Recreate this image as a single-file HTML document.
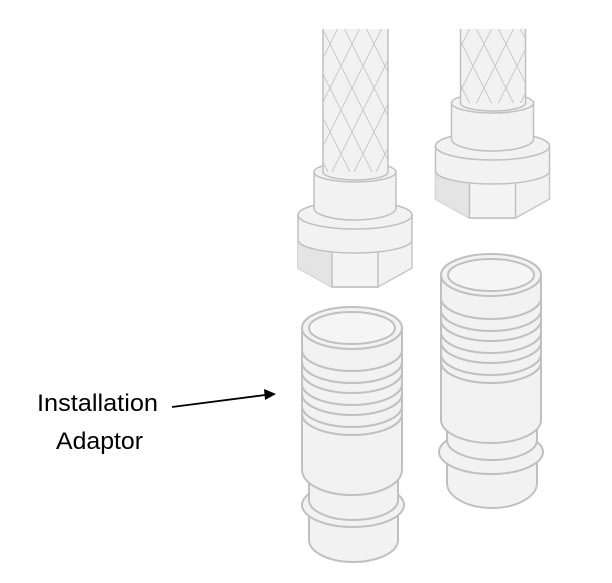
<!DOCTYPE html>
<html><head><meta charset="utf-8"><style>
html,body{margin:0;padding:0;background:#fff;width:612px;height:583px;overflow:hidden}
svg{display:block}
text{font-family:"Liberation Sans",sans-serif;font-size:24px;fill:#000}
</style></head><body>
<svg width="612" height="583" viewBox="0 0 612 583" xmlns="http://www.w3.org/2000/svg">
<defs>
<pattern id="mesh" width="22" height="44" patternUnits="userSpaceOnUse">
<path d="M0 0 L22 44 M22 0 L0 44 M-11 22 L0 44 M11 -22 L33 22" stroke="#c8c8c8" stroke-width="1" fill="none"/>
</pattern>
<g id="fit">
<!-- hex -->
<path d="M298 242 L298 268 L332 287 L378 287 L412 268 L412 242 Z" fill="#f2f2f2" stroke="#c8c8c8" stroke-width="1.5"/>
<path d="M298 242 L298 268 L332 287 L332 252 Z" fill="#e4e4e4"/>
<path d="M332 253 L332 287 L378 287 L378 253" fill="#f4f4f4" stroke="#c0c0c0" stroke-width="1.5"/>
<!-- nut -->
<path d="M298 215 L298 240 A57 13 0 0 0 412 240 L412 215 Z" fill="#f2f2f2" stroke="#c0c0c0" stroke-width="1.5"/>
<ellipse cx="355" cy="215" rx="57" ry="14" fill="#f2f2f2" stroke="#c0c0c0" stroke-width="1.5"/>
<!-- collar -->
<path d="M314 172 L314 208 A41 12 0 0 0 396 208 L396 172 Z" fill="#f2f2f2" stroke="#c0c0c0" stroke-width="1.5"/>
<ellipse cx="355" cy="172" rx="41" ry="10" fill="#f2f2f2" stroke="#c0c0c0" stroke-width="1.5"/>
</g>
</defs>

<!-- left fitting -->
<use href="#fit"/>
<rect x="323" y="29" width="65" height="143" fill="#f2f2f2"/>
<rect x="323" y="29" width="65" height="143" fill="url(#mesh)"/>
<path d="M323 29 L323 172 A32.5 8 0 0 0 388 172 L388 29" fill="none" stroke="#c0c0c0" stroke-width="1.5"/>

<!-- right fitting -->
<use href="#fit" transform="translate(137.5,-69)"/>
<rect x="460.5" y="29" width="65" height="74" fill="#f2f2f2"/>
<rect x="460.5" y="29" width="65" height="74" fill="url(#mesh)"/>
<path d="M460.5 29 L460.5 103 A32.5 8 0 0 0 525.5 103 L525.5 29" fill="none" stroke="#c0c0c0" stroke-width="1.5"/>

<!-- left adaptor -->
<g stroke="#c0c0c0" stroke-width="2" fill="#f2f2f2">
<path d="M309 510 L309 540 A44.5 22 0 0 0 398 540 L398 510 Z"/>
<ellipse cx="353" cy="505" rx="51" ry="22"/>
<path d="M309 460 L309 500 A44.5 20 0 0 0 398 500 L398 460 Z"/>
<path d="M302 328 L302 470 A50 25 0 0 0 402 470 L402 328 Z"/>
<ellipse cx="352" cy="328" rx="50" ry="21"/>
<ellipse cx="352" cy="328" rx="43" ry="16" fill="#f5f5f5"/>
<g fill="none">
<path d="M302 350 A50 21 0 0 0 402 350"/>
<path d="M302 362 A50 21 0 0 0 402 362"/>
<path d="M302 372 A50 21 0 0 0 402 372"/>
<path d="M302 384 A50 21 0 0 0 402 384"/>
<path d="M302 394 A50 21 0 0 0 402 394"/>
<path d="M302 406 A50 21 0 0 0 402 406"/>
<path d="M302 414 A50 21 0 0 0 402 414"/>
</g>
</g>

<!-- right adaptor -->
<g stroke="#c0c0c0" stroke-width="2" fill="#f2f2f2">
<path d="M447 458 L447 483 A45 25 0 0 0 537 483 L537 458 Z"/>
<ellipse cx="491" cy="452" rx="52" ry="22"/>
<path d="M447 400 L447 440 A45 20 0 0 0 537 440 L537 400 Z"/>
<path d="M441 275 L441 420 A50 23 0 0 0 541 420 L541 275 Z"/>
<ellipse cx="491" cy="275" rx="50" ry="21"/>
<ellipse cx="491" cy="275" rx="43" ry="16" fill="#f5f5f5"/>
<g fill="none">
<path d="M441 298 A50 21 0 0 0 541 298"/>
<path d="M441 310 A50 21 0 0 0 541 310"/>
<path d="M441 320 A50 21 0 0 0 541 320"/>
<path d="M441 332 A50 21 0 0 0 541 332"/>
<path d="M441 342 A50 21 0 0 0 541 342"/>
<path d="M441 354 A50 21 0 0 0 541 354"/>
<path d="M441 362 A50 21 0 0 0 541 362"/>
</g>
</g>

<!-- label -->
<text x="37" y="411" textLength="121" lengthAdjust="spacingAndGlyphs">Installation</text>
<text x="56" y="449" textLength="87" lengthAdjust="spacingAndGlyphs">Adaptor</text>
<line x1="172" y1="407" x2="265" y2="395" stroke="#000" stroke-width="1.8"/>
<polygon points="276,394 264,389 265,400" fill="#000"/>
</svg>
</body></html>
